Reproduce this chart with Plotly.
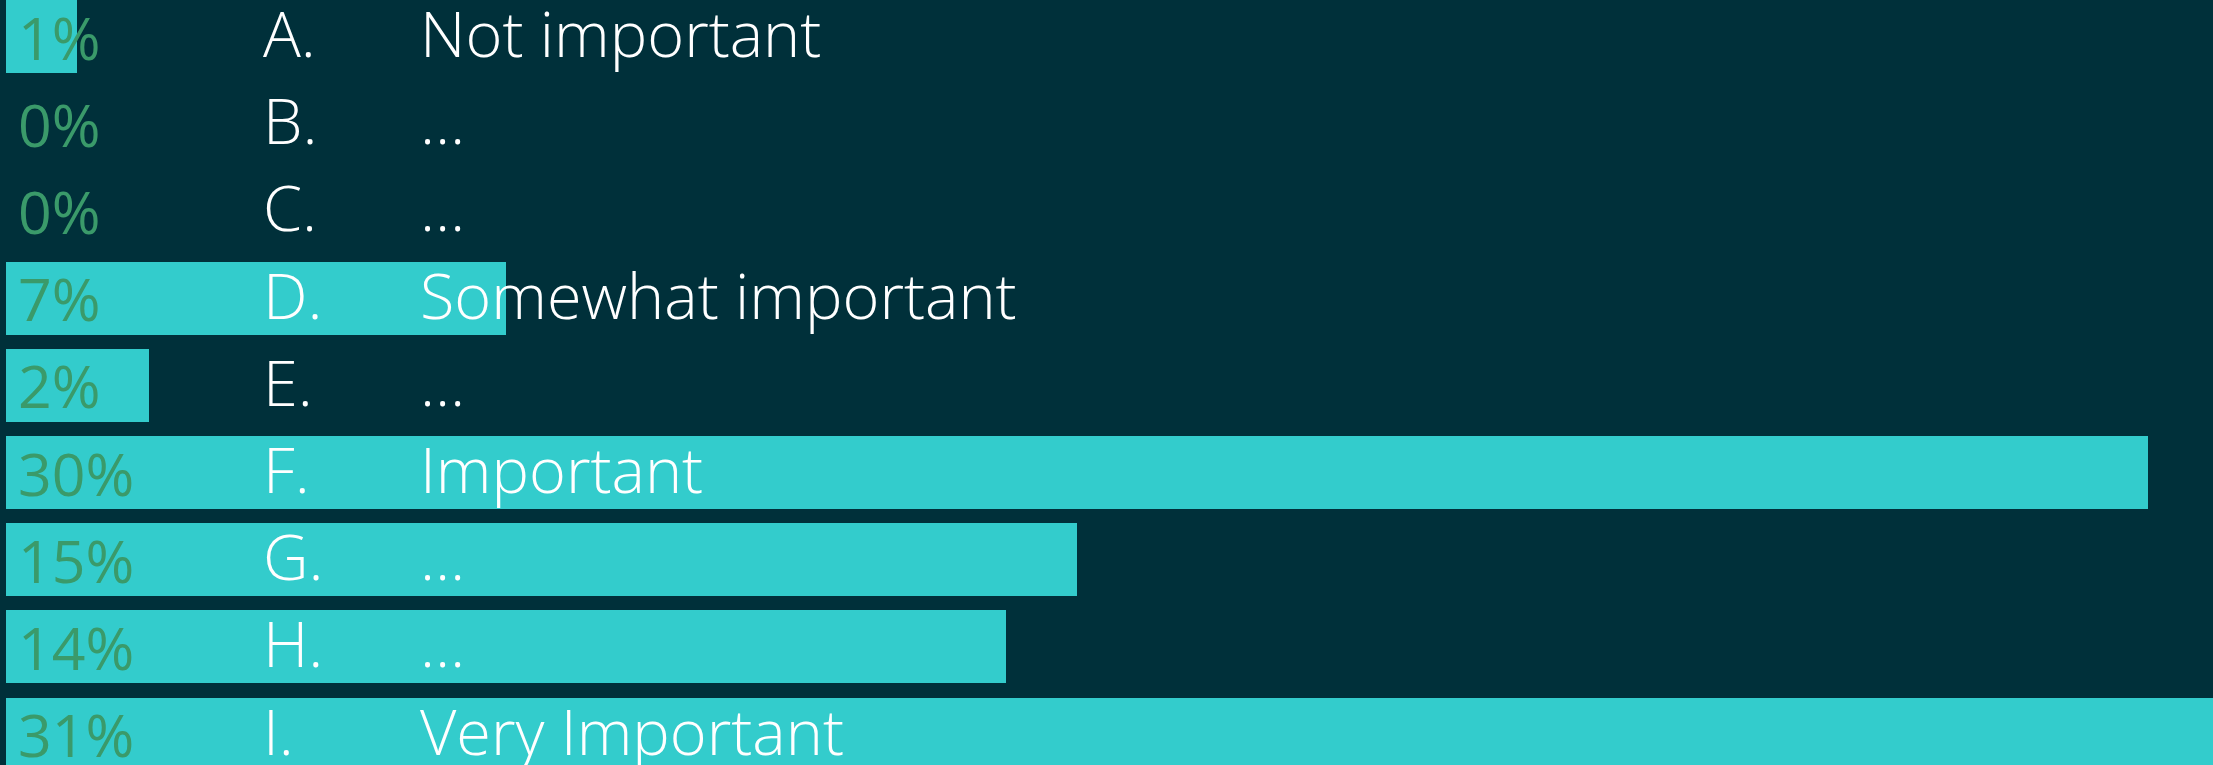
import plotly.graph_objects as go

letters = ["A.", "B.", "C.", "D.", "E.", "F.", "G.", "H.", "I."]
descriptions = ["Not important", "…", "…", "Somewhat important", "…",
                "Important", "…", "…", "Very Important"]
percents = [1, 0, 0, 7, 2, 30, 15, 14, 31]

BG = "#00303A"
BAR = "#33CCCC"
PCT = "#3A9A6A"
FONT = "Open Sans"

rows = list(range(len(letters)))

fig = go.Figure()
fig.add_trace(go.Bar(
    x=percents, y=rows, orientation="h",
    marker=dict(color=BAR, line=dict(width=0)),
    width=0.837, hoverinfo="skip", showlegend=False,
))

ann = []
for i in rows:
    ann.append(dict(x=0.0047, xref="paper", y=i, yref="y", xanchor="left", yanchor="middle",
                    text=f"{percents[i]}%", showarrow=False,
                    font=dict(family=FONT, size=59, color=PCT, weight=400)))
    ann.append(dict(x=0.1157, xref="paper", y=i, yref="y", xanchor="left", yanchor="middle",
                    text=letters[i], showarrow=False, yshift=4,
                    font=dict(family=FONT, size=63, color="white", weight=300)))
    ann.append(dict(x=0.1867, xref="paper", y=i, yref="y", xanchor="left", yanchor="middle",
                    text=descriptions[i], showarrow=False, yshift=4,
                    font=dict(family=FONT, size=63, color="white", weight=300)))

fig.update_layout(
    width=2213, height=765,
    margin=dict(l=6, r=0, t=0, b=0, pad=0),
    paper_bgcolor=BG, plot_bgcolor=BG,
    xaxis=dict(range=[0, 30.91], visible=False, fixedrange=True),
    yaxis=dict(range=[8.354, -0.419], visible=False, fixedrange=True),
    annotations=ann, bargap=0,
)

fig.write_html(
    "out.html",
    config={"displayModeBar": False},
    post_script="document.body.style.margin='0';document.body.style.background='#00303A';",
)
